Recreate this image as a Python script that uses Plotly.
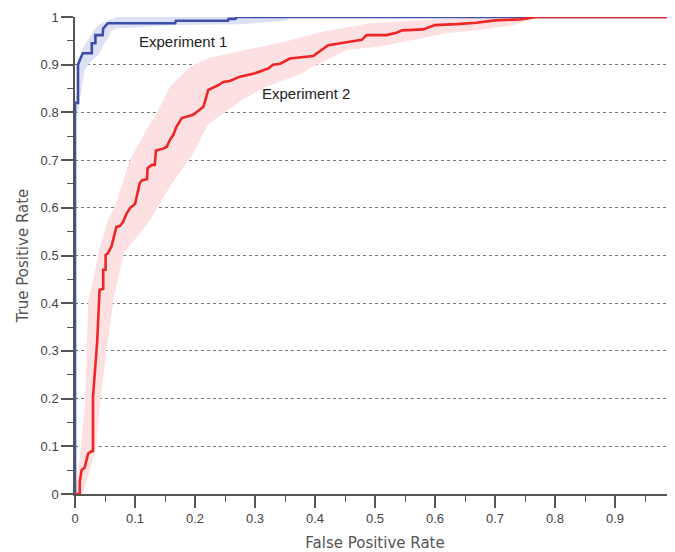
import plotly.graph_objects as go

# ---- data ----
exp1_fpr = [0, 0, 0.005, 0.005, 0.008, 0.010, 0.013, 0.028, 0.028, 0.034, 0.034, 0.046, 0.047,
            0.052, 0.055, 0.167, 0.168, 0.255, 0.256, 0.267, 0.270, 1.0]
exp1_tpr = [0, 0.82, 0.82, 0.90, 0.91, 0.915, 0.924, 0.924, 0.945, 0.945, 0.962, 0.962, 0.976,
            0.983, 0.987, 0.987, 0.992, 0.992, 0.996, 0.996, 1.0, 1.0]

exp1_band_hi_fpr = [0, 0.004, 0.008, 0.016, 0.033, 0.044, 0.055, 0.07]
exp1_band_hi_tpr = [0.80, 0.854, 0.917, 0.941, 0.976, 0.987, 0.993, 1.0]
exp1_band_lo_fpr = [0.005, 0.016, 0.024, 0.041, 0.049, 0.055, 0.060, 0.068, 0.10, 0.167, 0.275, 0.353, 0.358]
exp1_band_lo_tpr = [0.80, 0.889, 0.903, 0.924, 0.945, 0.955, 0.970, 0.976, 0.978, 0.983, 0.985, 0.992, 1.0]

exp2_fpr = [0, 0.008, 0.008, 0.011, 0.016, 0.022, 0.028, 0.030, 0.030, 0.032, 0.035, 0.037, 0.039,
            0.041, 0.041, 0.047, 0.047, 0.051, 0.051, 0.055, 0.061, 0.065, 0.069, 0.075, 0.080,
            0.086, 0.092, 0.100, 0.104, 0.108, 0.112, 0.120, 0.121, 0.128, 0.133, 0.135, 0.147,
            0.153, 0.158, 0.164, 0.169, 0.178, 0.197, 0.214, 0.219, 0.222, 0.239, 0.247, 0.258,
            0.275, 0.300, 0.322, 0.330, 0.342, 0.358, 0.397, 0.422, 0.453, 0.478, 0.486, 0.519,
            0.536, 0.545, 0.580, 0.600, 0.636, 0.669, 0.700, 0.742, 0.769, 1.0]
exp2_tpr = [0, 0, 0.026, 0.05, 0.055, 0.085, 0.09, 0.09, 0.204, 0.235, 0.275, 0.32, 0.375,
            0.41, 0.428, 0.43, 0.47, 0.47, 0.501, 0.505, 0.52, 0.54, 0.56, 0.562, 0.57,
            0.588, 0.60, 0.608, 0.631, 0.652, 0.658, 0.66, 0.683, 0.69, 0.69, 0.72, 0.724,
            0.728, 0.742, 0.753, 0.77, 0.788, 0.795, 0.812, 0.833, 0.847, 0.857, 0.864, 0.866,
            0.875, 0.882, 0.892, 0.90, 0.902, 0.913, 0.918, 0.941, 0.947, 0.952, 0.962, 0.962,
            0.967, 0.972, 0.974, 0.983, 0.985, 0.988, 0.993, 0.995, 1.0, 1.0]

exp2_band_hi_fpr = [0, 0.003, 0.010, 0.017, 0.022, 0.028, 0.042, 0.055, 0.069, 0.092, 0.122, 0.139,
                    0.158, 0.192, 0.225, 0.300, 0.350, 0.408, 0.490, 0.600, 0.700]
exp2_band_hi_tpr = [0, 0.03, 0.10, 0.197, 0.407, 0.435, 0.521, 0.574, 0.612, 0.702, 0.77, 0.805,
                    0.854, 0.896, 0.915, 0.935, 0.948, 0.968, 0.987, 0.995, 1.0]
exp2_band_lo_fpr = [0.012, 0.025, 0.035, 0.042, 0.064, 0.075, 0.082, 0.100, 0.125, 0.158, 0.197,
                    0.222, 0.247, 0.278, 0.319, 0.342, 0.375, 0.397, 0.453, 0.508, 0.564, 0.619,
                    0.675, 0.731, 0.769, 0.780]
exp2_band_lo_tpr = [0, 0.05, 0.10, 0.197, 0.407, 0.47, 0.505, 0.535, 0.574, 0.644, 0.714, 0.775,
                    0.798, 0.826, 0.854, 0.865, 0.88, 0.896, 0.931, 0.938, 0.952, 0.966, 0.973,
                    0.983, 0.998, 1.0]

x_tickvals = [0, 0.1, 0.2, 0.3, 0.4, 0.5, 0.6, 0.7, 0.8, 0.9]
x_ticktext = ["0", "0.1", "0.2", "0.3", "0.4", "0.5", "0.6", "0.7", "0.8", "0.9"]
x_minorvals = [0.05, 0.15, 0.25, 0.35, 0.45, 0.55, 0.65, 0.75, 0.85, 0.95]
y_tickvals = [0, 0.1, 0.2, 0.3, 0.4, 0.5, 0.6, 0.7, 0.8, 0.9, 1.0]
y_ticktext = ["0", "0.1", "0.2", "0.3", "0.4", "0.5", "0.6", "0.7", "0.8", "0.9", "1"]
y_minorvals = [0.05, 0.15, 0.25, 0.35, 0.45, 0.55, 0.65, 0.75, 0.85, 0.95]

labels = ["Experiment 1", "Experiment 2"]
label_pos = [(0.18, 0.948), (0.385, 0.84)]

# ---- colours ----
BLUE = "rgb(60,78,168)"
BLUE_BAND = "rgb(222,225,243)"
RED = "rgb(240,38,38)"
RED_BAND = "rgb(252,224,226)"
AXIS = "#555555"

fig = go.Figure()

def band(xh, yh, xl, yl, color):
    xs = list(xh) + list(reversed(xl))
    ys = list(yh) + list(reversed(yl))
    fig.add_trace(go.Scatter(x=xs, y=ys, fill="toself", fillcolor=color,
                             line=dict(width=0), mode="lines", hoverinfo="skip",
                             showlegend=False))

band(exp1_band_hi_fpr, exp1_band_hi_tpr, exp1_band_lo_fpr, exp1_band_lo_tpr, BLUE_BAND)
band(exp2_band_hi_fpr, exp2_band_hi_tpr, exp2_band_lo_fpr, exp2_band_lo_tpr, RED_BAND)

fig.add_trace(go.Scatter(x=exp1_fpr, y=exp1_tpr, mode="lines",
                         line=dict(color=BLUE, width=2.6), showlegend=False))
fig.add_trace(go.Scatter(x=exp2_fpr, y=exp2_tpr, mode="lines",
                         line=dict(color=RED, width=2.6), showlegend=False))

for txt, (lx, ly) in zip(labels, label_pos):
    fig.add_annotation(x=lx, y=ly, text=txt, showarrow=False,
                       font=dict(family="Liberation Sans, Arial", size=15, color="#222222"))

tickfont = dict(family="Liberation Sans, Arial", size=13, color="#444444")
titlefont = dict(family="DejaVu Sans", size=15, color="#555555")

# page body has an 8px margin: figure offset so the plot lands where the reference has it
fig.update_layout(
    width=667, height=544,
    margin=dict(l=67, r=0, t=9, b=58),
    paper_bgcolor="white", plot_bgcolor="white",
    showlegend=False,
)
fig.update_xaxes(
    range=[0, 1.0], tickmode="array", tickvals=x_tickvals, ticktext=x_ticktext,
    ticks="outside", ticklen=12, tickwidth=1.5, tickcolor=AXIS,
    showline=True, linecolor=AXIS, linewidth=1.5, showgrid=False, zeroline=False,
    tickfont=tickfont, automargin=False, layer="below traces",
    minor=dict(tickmode="array", tickvals=x_minorvals, ticks="outside", ticklen=6,
               tickwidth=1.2, tickcolor=AXIS, showgrid=False),
    title=dict(text="False Positive Rate", font=titlefont, standoff=14),
)
fig.update_yaxes(
    range=[0, 1.0], tickmode="array", tickvals=y_tickvals, ticktext=y_ticktext,
    ticks="outside", ticklen=12, tickwidth=1.5, tickcolor=AXIS,
    showline=True, linecolor=AXIS, linewidth=1.5,
    showgrid=True, gridcolor="#777777", griddash="dot", gridwidth=1, zeroline=False,
    tickfont=tickfont, automargin=False, layer="below traces",
    minor=dict(tickmode="array", tickvals=y_minorvals, ticks="outside", ticklen=6,
               tickwidth=1.2, tickcolor=AXIS, showgrid=False),
    title=dict(text="True Positive Rate", font=titlefont, standoff=8),
)

fig.write_html("out.html")
